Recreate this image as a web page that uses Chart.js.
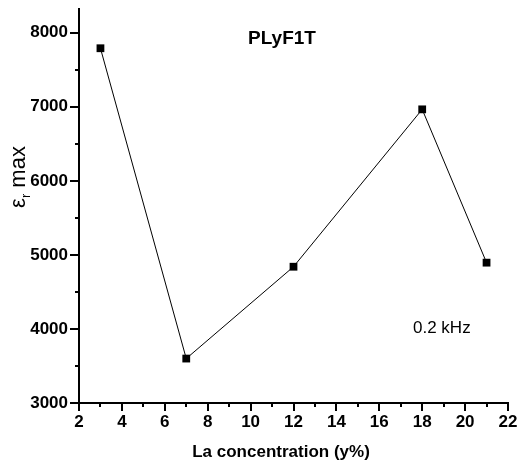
<!DOCTYPE html>
<html>
<head>
<meta charset="utf-8">
<script src="https://cdn.jsdelivr.net/npm/chart.js@4"></script>
<style>
  html, body { margin: 0; padding: 0; background: #fff; }
  #wrap { width: 519px; height: 463px; position: relative; }
</style>
</head>
<body>
<div id="wrap"><canvas id="chart"></canvas></div>
<script>
// --- DATA ---
const laConc = [3, 7, 12, 18, 21];
const epsMax = [7790, 3600, 4840, 6965, 4895];
const xTicks = [2, 4, 6, 8, 10, 12, 14, 16, 18, 20, 22];
const yTicks = [3000, 4000, 5000, 6000, 7000, 8000];
const xMinor = [3, 5, 7, 9, 11, 13, 15, 17, 19, 21];
const yMinor = [3500, 4500, 5500, 6500, 7500];

const FONT = '"Liberation Sans", Arial, sans-serif';

// tick marks (major + minor), titles and annotation text
const decorations = {
    id: 'decorations',
    afterDraw(chart) {
        const ctx = chart.ctx;
        const x = chart.scales.x, y = chart.scales.y;
        const area = chart.chartArea;
        ctx.save();
        ctx.strokeStyle = '#000';
        ctx.lineWidth = 2;
        ctx.beginPath();
        xTicks.forEach(v => {
            const px = Math.round(x.getPixelForValue(v));
            ctx.moveTo(px, area.bottom); ctx.lineTo(px, area.bottom + 8);
        });
        xMinor.forEach(v => {
            const px = Math.round(x.getPixelForValue(v));
            ctx.moveTo(px, area.bottom); ctx.lineTo(px, area.bottom + 4);
        });
        yTicks.forEach(v => {
            const py = Math.round(y.getPixelForValue(v));
            ctx.moveTo(area.left, py); ctx.lineTo(area.left - 9, py);
        });
        yMinor.forEach(v => {
            const py = Math.round(y.getPixelForValue(v));
            ctx.moveTo(area.left, py); ctx.lineTo(area.left - 4, py);
        });
        ctx.stroke();

        ctx.fillStyle = '#000';
        ctx.textBaseline = 'alphabetic';

        // sample name
        ctx.font = 'bold 19px ' + FONT;
        ctx.textAlign = 'center';
        ctx.fillText('PLyF1T', 282, 44);

        // measuring frequency
        ctx.font = '17px ' + FONT;
        ctx.textAlign = 'left';
        ctx.fillText('0.2 kHz', 413, 333);

        // x axis title
        ctx.font = 'bold 17px ' + FONT;
        ctx.textAlign = 'center';
        ctx.fillText('La concentration (y%)', 281, 457);

        // y axis title: epsilon with subscript r, rotated
        ctx.translate(25, 177);
        ctx.rotate(-Math.PI / 2);
        ctx.textAlign = 'left';
        ctx.font = '22px ' + FONT;
        const wEps = ctx.measureText('\u03b5').width;
        ctx.font = '13px ' + FONT;
        const wSub = ctx.measureText('r').width;
        ctx.font = '22px ' + FONT;
        const wMax = ctx.measureText(' max').width;
        let cx = -(wEps + wSub + wMax) / 2;
        ctx.fillText('\u03b5', cx, 0);
        cx += wEps;
        ctx.font = '13px ' + FONT;
        ctx.fillText('r', cx, 5);
        cx += wSub;
        ctx.font = '22px ' + FONT;
        ctx.fillText(' max', cx, 0);
        ctx.restore();
    }
};

new Chart(document.getElementById('chart'), {
    type: 'line',
    data: {
        datasets: [{
            data: laConc.map((v, i) => ({ x: v, y: epsMax[i] })),
            borderColor: '#000',
            borderWidth: 1,
            backgroundColor: '#000',
            pointStyle: 'rect',
            pointRadius: 5.5,
            pointBorderWidth: 0,
            pointBackgroundColor: '#000',
            tension: 0
        }]
    },
    options: {
        responsive: true,
        maintainAspectRatio: false,
        animation: false,
        layout: { padding: { top: 9, right: 11, left: 0, bottom: 0 } },
        plugins: {
            legend: { display: false },
            tooltip: { enabled: false },
            title: { display: false }
        },
        scales: {
            x: {
                type: 'linear',
                min: 2,
                max: 22,
                afterBuildTicks: s => { s.ticks = xTicks.map(v => ({ value: v })); },
                afterFit: s => { s.height = 60; s.paddingLeft = 0; s.paddingRight = 0; },
                grid: { display: false, drawTicks: false },
                border: { display: true, color: '#000', width: 2 },
                ticks: {
                    color: '#000',
                    padding: 9,
                    maxRotation: 0,
                    callback: v => String(v),
                    font: { family: FONT, size: 17, weight: 'bold' }
                }
            },
            y: {
                type: 'linear',
                min: 3000,
                max: 8320,
                afterBuildTicks: s => { s.ticks = yTicks.map(v => ({ value: v })); },
                afterFit: s => { s.width = 79; s.paddingTop = 0; s.paddingBottom = 0; },
                grid: { display: false, drawTicks: false },
                border: { display: true, color: '#000', width: 2 },
                ticks: {
                    color: '#000',
                    padding: 11,
                    callback: v => String(v),
                    font: { family: FONT, size: 17, weight: 'bold' }
                }
            }
        }
    },
    plugins: [decorations]
});
</script>
</body>
</html>
